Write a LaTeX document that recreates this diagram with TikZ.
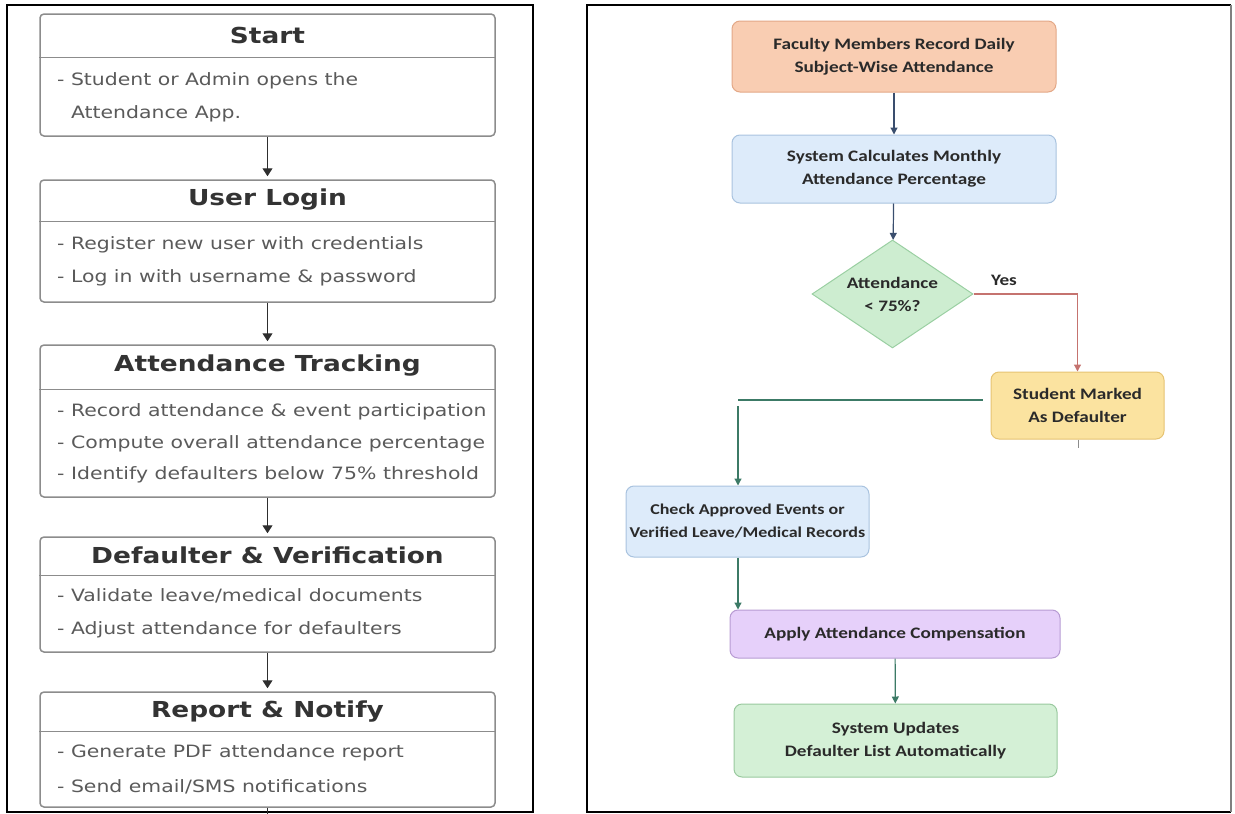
\documentclass[tikz,border=0pt]{standalone}
\usepackage{fontspec}
\setmainfont{DejaVu Sans}
\newfontfamily\stagefont[FakeStretch=1.2]{DejaVu Sans}
\newfontfamily\flowfont[FakeStretch=1.2]{Carlito}
\usetikzlibrary{shapes.geometric,arrows.meta}

\definecolor{boxgray}{HTML}{8C8C8C}
\definecolor{titlegray}{HTML}{333333}
\definecolor{bodygray}{HTML}{5A5A5A}
\definecolor{tipgray}{HTML}{2E2E2E}
\definecolor{orangefill}{HTML}{F9CDB2}
\definecolor{orangedraw}{HTML}{E3A887}
\definecolor{bluefill}{HTML}{DDEBFA}
\definecolor{bluedraw}{HTML}{A9C3DF}
\definecolor{greenfill}{HTML}{CDEDD0}
\definecolor{greendraw}{HTML}{9ACFA2}
\definecolor{yellowfill}{HTML}{FBE3A0}
\definecolor{yellowdraw}{HTML}{E6C372}
\definecolor{purplefill}{HTML}{E6D0FA}
\definecolor{purpledraw}{HTML}{B79BD3}
\definecolor{mintfill}{HTML}{D4F0D6}
\definecolor{mintdraw}{HTML}{99C99E}
\definecolor{navyline}{HTML}{3A4E6E}
\definecolor{redline}{HTML}{C5736F}
\definecolor{tealline}{HTML}{3C7A66}
\definecolor{flowtext}{HTML}{2A2A2A}

\tikzset{
  stagebox/.style={draw=boxgray, line width=1.5pt, rounded corners=4pt, fill=white,
    minimum width=455pt, inner sep=0pt},
  stagetitle/.style={font=\stagefont\bfseries\fontsize{22}{26}\selectfont, text=titlegray},
  stagebody/.style={font=\stagefont\fontsize{17}{33}\selectfont, text=bodygray,
    align=left, anchor=west, inner sep=0pt},
  divider/.style={draw=boxgray, line width=1pt},
  stagearrow/.style={draw=tipgray, line width=1pt, -{Triangle[width=10pt,length=8pt]}, shorten >=3pt},
  flowbox/.style={draw, line width=1pt, rounded corners=8pt, inner sep=2pt, align=center,
    font=\flowfont\bfseries\fontsize{16}{23}\selectfont, text=flowtext},
  decision/.style={diamond, draw=greendraw, fill=greenfill, line width=1pt, inner sep=0pt,
    aspect=1.49, minimum width=161pt, minimum height=108pt, align=center,
    font=\flowfont\bfseries\fontsize{16}{23}\selectfont, text=flowtext},
  navyarrow/.style={draw=navyline, line width=1.2pt, -{Triangle[width=7pt,length=7pt]}},
  redarrow/.style={draw=redline, line width=1.2pt, -{Triangle[width=7pt,length=7pt]}},
  tealarrow/.style={draw=tealline, line width=1.2pt, -{Triangle[width=7pt,length=7pt]}},
}

\begin{document}
\begin{tikzpicture}[x=1pt,y=-1pt]
\useasboundingbox (0,0) rectangle (1235,814);

% panel frames
\draw[line width=2pt] (7,5) rectangle (533,812);
\draw[line width=2.4pt] (1231,5) -- (587,5) -- (587,812) -- (1231,812);
\draw[line width=1.2pt, draw=gray] (1231,5) -- (1231,812);

% left panel: app stages
\node (start) at (267.5,75) [stagebox,minimum height=122pt] {};
\node (login) at (267.5,241) [stagebox,minimum height=122pt] {};
\node (tracking) at (267.5,421) [stagebox,minimum height=152pt] {};
\node (verify) at (267.5,594.5) [stagebox,minimum height=115pt] {};
\node (report) at (267.5,749.5) [stagebox,minimum height=115pt] {};

\draw[divider] ([yshift=-44pt]start.north west) -- ([yshift=-44pt]start.north east);
\draw[divider] ([yshift=-42pt]login.north west) -- ([yshift=-42pt]login.north east);
\draw[divider] ([yshift=-45pt]tracking.north west) -- ([yshift=-45pt]tracking.north east);
\draw[divider] ([yshift=-39pt]verify.north west) -- ([yshift=-39pt]verify.north east);
\draw[divider] ([yshift=-40pt]report.north west) -- ([yshift=-40pt]report.north east);

\node (starttitle) at (267.5,35) [stagetitle] {Start};
\node (logintitle) at (267.5,200) [stagetitle] {User Login};
\node (trackingtitle) at (267.5,366) [stagetitle] {Attendance Tracking};
\node (verifytitle) at (267.5,555) [stagetitle] {Defaulter \& Verification};
\node (reporttitle) at (267.5,712) [stagetitle] {Report \& Notify};

\node (startbody) at (57,97.5) [stagebody] {- Student or Admin opens the\\\hphantom{- }Attendance App.};
\node (loginbody) at (57,261.5) [stagebody] {- Register new user with credentials\\- Log in with username \& password};
\node (trackingbody) at (57,443.5) [stagebody,font=\stagefont\fontsize{17}{31.5}\selectfont]
  {- Record attendance \& event participation\\- Compute overall attendance percentage\\- Identify defaulters below 75\% threshold};
\node (verifybody) at (57,613.5) [stagebody] {- Validate leave/medical documents\\- Adjust attendance for defaulters};
\node (reportbody) at (57,769.5) [stagebody,font=\stagefont\fontsize{17}{35}\selectfont]
  {- Generate PDF attendance report\\- Send email/SMS notifications};

\coordinate (leftend) at (267.5,814);
\draw[stagearrow] (start) -- (login);
\draw[stagearrow] (login) -- (tracking);
\draw[stagearrow] (tracking) -- (verify);
\draw[stagearrow] (verify) -- (report);
\draw[draw=tipgray, line width=1pt] (report) -- (leftend);

% right panel: defaulter workflow
\node (faculty) at (894,56.5) [flowbox,draw=orangedraw,fill=orangefill,minimum width=324pt,minimum height=71pt]
  {Faculty Members Record Daily\\Subject-Wise Attendance};
\node (calc) at (894,169) [flowbox,draw=bluedraw,fill=bluefill,minimum width=324pt,minimum height=68pt]
  {System Calculates Monthly\\Attendance Percentage};
\node (check75) at (892.5,294) [decision] {Attendance\\< 75\%?};
\node (defaulter) at (1077.5,405.5) [flowbox,draw=yellowdraw,fill=yellowfill,minimum width=173pt,minimum height=67pt]
  {Student Marked\\As Defaulter};
\node (records) at (747.5,521.5) [flowbox,draw=bluedraw,fill=bluefill,minimum width=243pt,minimum height=71pt,
  inner sep=1pt, font=\flowfont\bfseries\fontsize{15}{23}\selectfont]
  {Check Approved Events or\\Verified Leave/Medical Records};
\node (compensate) at (895,634) [flowbox,draw=purpledraw,fill=purplefill,minimum width=330pt,minimum height=48pt]
  {Apply Attendance Compensation};
\node (updates) at (895.5,740.5) [flowbox,draw=mintdraw,fill=mintfill,minimum width=323pt,minimum height=73pt]
  {System Updates\\Defaulter List Automatically};
\node (yes) at (1004,280) [font=\flowfont\bfseries\fontsize{16}{18}\selectfont, text=flowtext] {Yes};

\coordinate (split) at (738,400);
\coordinate (stubend) at (1078,448);
\draw[navyarrow] (faculty) -- (calc);
\draw[navyarrow] (calc) -- (check75);
\draw[redarrow] (check75.east) -| (defaulter.north);
\draw[draw=tealline, line width=2pt, shorten <=8pt] (defaulter.west |- split) -- (split);
\draw[tealarrow] ([yshift=-6pt]split) -- (split |- records.north);
\draw[tealarrow] ([xshift=-9.5pt]records.south) -- ([xshift=-9.5pt]records.south |- compensate.north);
\draw[tealarrow] (compensate) -- (updates);
\draw[draw=boxgray, line width=1pt] (defaulter.south -| stubend) -- (stubend);
\end{tikzpicture}
\end{document}
